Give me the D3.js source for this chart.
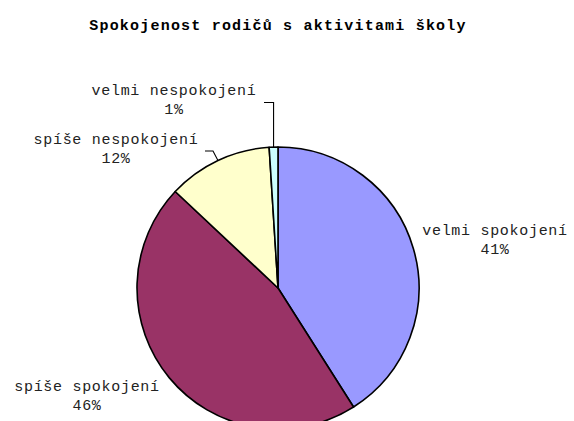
<!DOCTYPE html>
<html><head><meta charset="utf-8">
<script src="https://cdn.jsdelivr.net/npm/d3@7"></script>
<style>
html,body{margin:0;padding:0;background:#fff;}
svg{display:block;}
text{font-family:"Liberation Mono","Courier New",monospace;}
</style></head>
<body>
<svg id="chart" width="574" height="421"></svg>
<script>
const title = "Spokojenost rodičů s aktivitami školy";
const categories = ["velmi spokojení", "spíše spokojení", "spíše nespokojení", "velmi nespokojení"];
const values = [41, 46, 12, 1];
const colors = ["#9999FF", "#993366", "#FFFFCC", "#CCFFFF"];

// layout (label anchors: centre x of text block, baseline of first line)
const labelLayout = [
  {x: 495, y: 235, leader: null},
  {x: 87, y: 391, leader: null},
  {x: 116, y: 144, leader: {hx: 205, hy: 151}},
  {x: 174, y: 95, leader: {hx: 264, hy: 102.5}}
];

const W = 574, H = 421, cx = 278, cy = 288, R = 141;
const svg = d3.select("#chart");

svg.append("text").attr("x", cx).attr("y", 30).attr("text-anchor", "middle")
  .style("font-size", "15px").style("font-weight", "bold").style("letter-spacing", "1.2px")
  .text(title);

const pie = d3.pie().sort(null).value(d => d);
const arcs = pie(values);
const arc = d3.arc().innerRadius(0).outerRadius(R);
const g = svg.append("g").attr("transform", `translate(${cx},${cy})`);
g.selectAll("path").data(arcs).join("path")
  .attr("d", arc).attr("fill", (d, i) => colors[i])
  .attr("stroke", "#000").attr("stroke-width", 1.6).attr("stroke-linejoin", "round");

const total = d3.sum(values);
arcs.forEach((a, i) => {
  const L = labelLayout[i];
  const t = svg.append("text").attr("text-anchor", "middle")
    .style("font-size", "15px").style("letter-spacing", "0.7px").attr("fill", "#222");
  t.append("tspan").attr("x", L.x).attr("y", L.y).text(categories[i]);
  t.append("tspan").attr("x", L.x).attr("y", L.y + 18.5).text(Math.round(values[i] / total * 100) + "%");
  if (L.leader) {
    const mid = (a.startAngle + a.endAngle) / 2;
    const px = cx + R * Math.sin(mid), py = cy - R * Math.cos(mid);
    let pts;
    if (i === 3) {
      pts = [[L.leader.hx, L.leader.hy], [px, L.leader.hy], [px, py]];
    } else {
      pts = [[L.leader.hx, L.leader.hy], [L.leader.hx + 8, L.leader.hy], [px, py]];
    }
    svg.append("path").attr("d", d3.line()(pts)).attr("fill", "none")
      .attr("stroke", "#000").attr("stroke-width", 1.1);
  }
});
</script>
</body></html>
